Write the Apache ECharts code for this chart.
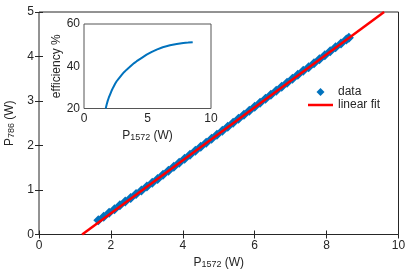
<!DOCTYPE html>
<html><head><meta charset="utf-8">
<script src="https://cdn.jsdelivr.net/npm/echarts@6/dist/echarts.min.js"></script>
<style>html,body{margin:0;padding:0;background:#fff}#c{width:409px;height:269px}</style>
</head><body><div id="c"></div>
<script>
// Main plot: measured data P786 vs P1572
const dataX = [1.65,1.80,1.95,2.10,2.25,2.40,2.55,2.70,2.85,3.00,3.15,3.30,3.45,3.60,3.75,3.90,4.05,4.20,4.35,4.50,4.65,4.80,4.95,5.10,5.25,5.40,5.55,5.70,5.85,6.00,6.15,6.30,6.45,6.60,6.75,6.90,7.05,7.20,7.35,7.50,7.65,7.80,7.95,8.10,8.25,8.40,8.55,8.62];
const dataY = [0.32,0.40,0.49,0.57,0.655,0.74,0.82,0.91,0.99,1.08,1.165,1.25,1.34,1.43,1.52,1.61,1.70,1.79,1.88,1.97,2.06,2.15,2.24,2.33,2.42,2.51,2.60,2.69,2.78,2.87,2.96,3.05,3.14,3.23,3.32,3.41,3.50,3.59,3.68,3.76,3.85,3.94,4.03,4.12,4.21,4.29,4.38,4.42];
// Linear fit end points
const fitX = [1.2, 9.6];
const fitY = [0, 5];
// Inset: efficiency %
const effX = [1.71,1.78,1.86,1.95,2.05,2.17,2.31,2.45,2.57,2.75,2.97,3.15,3.36,3.55,3.75,3.95,4.15,4.55,4.93,5.30,5.72,6.20,6.77,7.30,7.82,8.20,8.56];
const effY = [20,21.8,23.5,25.1,26.6,28.4,30.1,31.7,32.9,34.3,35.9,37.2,38.4,39.4,40.5,41.5,42.4,44.0,45.5,46.7,47.9,49.0,49.9,50.5,51.0,51.2,51.4];
// Tick settings
const mainXTicks = {min:0, max:10, interval:2};
const mainYTicks = {min:0, max:5, interval:1};
const insetXTicks = {min:0, max:10, interval:5};
const insetYTicks = {min:20, max:60, interval:20};

const FONT = 'Liberation Sans, Arial, sans-serif';
const TXT = '#262626';
const zip = (a,b) => a.map((v,i)=>[v,b[i]]);
const rich = {
  n:{fontSize:12,fontFamily:FONT,color:TXT,verticalAlign:'bottom'},
  s:{fontSize:9,fontFamily:FONT,color:TXT,verticalAlign:'bottom',padding:[0,0,-1,0]}
};
const lab = {fontSize:12,fontFamily:FONT,color:TXT};
// legend icons in a 25x8 box
const diamondIcon = 'path://M0,4 L0.01,4 Z M12.5,0 L16.5,4 L12.5,8 L8.5,4 Z M24.99,4 L25,4 Z';
const lineIcon = 'path://M0,2.75 h25 v2.5 h-25 Z M0,0 L0.01,0 Z M0,8 L0.01,8 Z';
const chart = echarts.init(document.getElementById('c'),null,{renderer:'canvas'});
chart.setOption({
  animation:false,
  backgroundColor:'#fff',
  grid:[
    {left:39,top:12,right:10.5,bottom:34.5,show:true,borderColor:TXT,borderWidth:1,backgroundColor:'transparent',outerBoundsMode:'none',containLabel:false},
    {left:84,top:24,right:198,bottom:160.5,show:true,borderColor:'#555',borderWidth:1,backgroundColor:'#fff',z:3,outerBoundsMode:'none',containLabel:false}
  ],
  xAxis:[
    {gridIndex:0,type:'value',...mainXTicks,position:'bottom',
     axisLine:{show:false},splitLine:{show:false},
     axisTick:{inside:true,length:4,lineStyle:{color:TXT}},
     axisLabel:{...lab,margin:5},
     name:'{n|P}{s|1572}{n| (W)}',nameLocation:'middle',nameGap:21,
     nameTextStyle:{rich:rich}},
    {gridIndex:0,type:'value',...mainXTicks,position:'top',
     axisLine:{show:false},splitLine:{show:false},
     axisTick:{inside:true,length:4,lineStyle:{color:TXT}},
     axisLabel:{show:false}},
    {gridIndex:1,type:'value',...insetXTicks,position:'bottom',
     axisLine:{show:false},splitLine:{show:false},axisTick:{show:false},
     axisLabel:{...lab,margin:4},
     name:'{n|P}{s|1572}{n| (W)}',nameLocation:'middle',nameGap:21,
     nameTextStyle:{rich:rich}}
  ],
  yAxis:[
    {gridIndex:0,type:'value',...mainYTicks,position:'left',
     axisLine:{show:false},splitLine:{show:false},
     axisTick:{inside:true,length:4,lineStyle:{color:TXT}},
     axisLabel:{...lab,margin:5},
     name:'{n|P}{s|786}{n| (W)}',nameLocation:'middle',nameGap:19,
     nameTextStyle:{rich:rich}},
    {gridIndex:0,type:'value',...mainYTicks,position:'right',
     axisLine:{show:false},splitLine:{show:false},
     axisTick:{inside:true,length:4,lineStyle:{color:TXT}},
     axisLabel:{show:false}},
    {gridIndex:1,type:'value',...insetYTicks,position:'left',
     axisLine:{show:false},splitLine:{show:false},axisTick:{show:false},
     axisLabel:{...lab,margin:4},
     name:'efficiency %',nameLocation:'middle',nameGap:21,
     nameTextStyle:{fontSize:12,fontFamily:FONT,color:TXT}}
  ],
  legend:{
    left:308,top:86,padding:0,orient:'vertical',itemWidth:25,itemHeight:8,itemGap:1,
    textStyle:{fontSize:12,fontFamily:FONT,color:TXT},
    data:[{name:'data',icon:diamondIcon},{name:'linear fit',icon:lineIcon}]
  },
  series:[
    {name:'data',type:'scatter',xAxisIndex:0,yAxisIndex:0,symbol:'diamond',symbolSize:10,
     itemStyle:{color:'#0072BD',opacity:1},data:zip(dataX,dataY),z:2},
    {name:'linear fit',type:'line',xAxisIndex:0,yAxisIndex:0,symbol:'none',
     lineStyle:{color:'#FF0000',width:2.5},itemStyle:{color:'#FF0000'},data:zip(fitX,fitY),z:3},
    {name:'eff',type:'line',xAxisIndex:2,yAxisIndex:2,symbol:'none',
     lineStyle:{color:'#0072BD',width:2},data:zip(effX,effY),z:5}
  ]
});
</script></body></html>
